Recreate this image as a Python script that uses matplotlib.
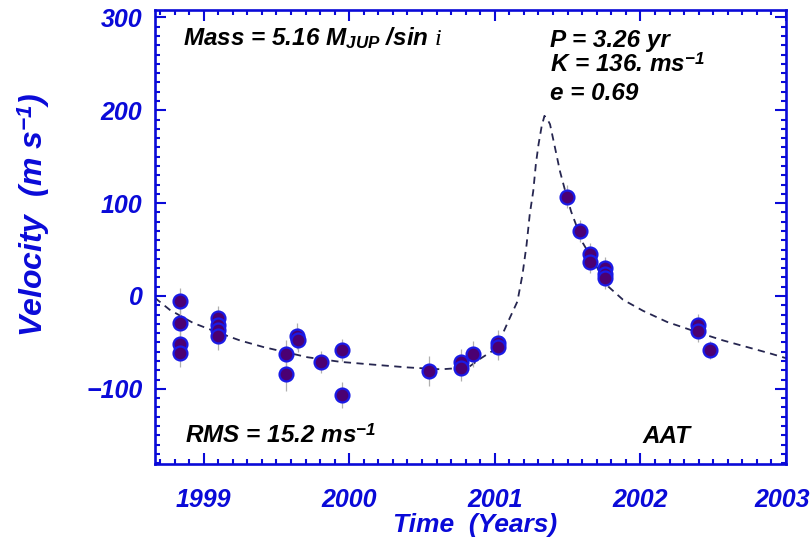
import matplotlib
matplotlib.use("Agg")
import matplotlib.pyplot as plt
import matplotlib.transforms as mtransforms
from matplotlib.ticker import MultipleLocator
import numpy as np

FONT = ["Liberation Sans", "DejaVu Sans"]
plt.rcParams['font.family'] = FONT
plt.rcParams['mathtext.fontset'] = 'custom'
plt.rcParams['mathtext.rm'] = 'Liberation Sans:italic:bold'
plt.rcParams['mathtext.bf'] = 'Liberation Sans:italic:bold'
plt.rcParams['mathtext.it'] = 'Liberation Serif:italic'

BLUE = "#0a0ad8"

# observations (year, velocity m/s, error m/s)
obs_t = [1998.838, 1998.838, 1998.838, 1998.838,
         1999.098, 1999.098, 1999.098, 1999.098,
         1999.569, 1999.569, 1999.640, 1999.646,
         1999.803, 1999.953, 1999.953,
         2000.546, 2000.769, 2000.769, 2000.850, 2001.022, 2001.022,
         2001.493, 2001.585, 2001.652, 2001.652,
         2001.757, 2001.757, 2001.757,
         2002.393, 2002.393, 2002.481]
obs_v = [-5, -29, -52, -61,
         -24, -31, -37, -43,
         -62, -84, -43, -47,
         -71, -58, -107,
         -81, -71, -78, -62, -51, -55,
         107, 70, 45, 37,
         30, 24, 19,
         -31, -38, -58]
obs_err = [14, 14, 15, 16,
           13, 13, 14, 15,
           15, 18, 14, 13,
           12, 12, 14,
           16, 14, 14, 14, 14, 14,
           12, 12, 12, 12,
           12, 12, 12,
           12, 12, 10]

# fitted orbit
fit_t = [1998.665, 1998.768, 1998.927, 1999.092, 1999.251, 1999.410, 1999.548,
         1999.713, 1999.940, 2000.168, 2000.403, 2000.630, 2000.817, 2000.906,
         2000.996, 2001.045, 2001.099, 2001.155, 2001.190, 2001.218, 2001.240,
         2001.264, 2001.282, 2001.300, 2001.322, 2001.341, 2001.362, 2001.379,
         2001.413, 2001.448, 2001.482, 2001.524, 2001.605, 2001.682, 2001.780,
         2001.880, 2002.018, 2002.183, 2002.390, 2002.570, 2002.755, 2002.893,
         2003.0]
fit_v = [-2, -15, -29, -39, -48, -55, -60,
         -66, -71, -74, -77, -79, -77, -67,
         -58, -44, -25, -6, 23, 55, 88,
         113, 142, 163, 183, 194, 190, 185,
         160, 134, 114, 91, 57, 36, 10,
         -4, -16, -28, -39, -48, -56, -62,
         -67]

fig = plt.figure(figsize=(8.12, 5.45), dpi=100)
ax = fig.add_axes([155/812, 1 - 464/545, (786 - 155)/812, (464 - 10)/545])

ax.plot(fit_t, fit_v, color="#262650", lw=1.3, dashes=(4, 3), zorder=2)
ax.errorbar(obs_t, obs_v, yerr=obs_err, fmt='none', ecolor="#b0b0b0",
            elinewidth=0.9, capsize=0, zorder=3)
ax.plot(obs_t, obs_v, 'o', ms=10, mfc="#4b0072", mec="#1a1ae6", mew=1.6,
        zorder=4)

ax.set_xlim(1998.666, 2003.0)
ax.set_ylim(-181, 308)

ax.xaxis.set_major_locator(MultipleLocator(1))
ax.xaxis.set_minor_locator(MultipleLocator(0.1))
ax.yaxis.set_major_locator(MultipleLocator(100))
ax.yaxis.set_minor_locator(MultipleLocator(10))
ax.set_xticks([1999, 2000, 2001, 2002, 2003])
ax.set_xticklabels(["1999", "2000", "2001", "2002", "2003"])
ax.set_yticks([-100, 0, 100, 200, 300])
ax.set_yticklabels(["\u2212100", "0", "100", "200", "300"])

for s in ax.spines.values():
    s.set_color(BLUE)
    s.set_linewidth(1.9)
ax.tick_params(which='both', direction='in', top=True, right=True,
               color=BLUE, width=1.5)
ax.tick_params(which='major', length=8)
ax.tick_params(which='minor', length=3.5)
ax.tick_params(axis='x', which='major', pad=17)
ax.tick_params(axis='y', which='major', pad=9)
for lab in ax.get_xticklabels() + ax.get_yticklabels():
    lab.set_fontsize(18)
    lab.set_fontweight('bold')
    lab.set_fontstyle('italic')
    lab.set_color(BLUE)
last = ax.get_xticklabels()[-1]
last.set_transform(last.get_transform() +
                   mtransforms.ScaledTranslation(-4/100, 0, fig.dpi_scale_trans))

ax.set_xlabel("Time  (Years)", fontsize=19, fontweight='bold',
              fontstyle='italic', color=BLUE)
ax.xaxis.set_label_coords(0.508, -0.108)
ax.set_ylabel("Velocity  (m s$^{-1}$)", fontsize=23, fontweight='bold',
              fontstyle='italic', color=BLUE)
ax.yaxis.set_label_coords(-0.163, 0.55)

txt = dict(fontsize=17.5, fontweight='bold', fontstyle='italic', color='black',
           transform=ax.transAxes, va='baseline', ha='left')
ax.text(0.044, 0.921, r"Mass = 5.16 M$_{\mathrm{JUP}}$ /sin $i$", **txt)
ax.text(0.626, 0.919, "P = 3.26 yr", **txt)
ax.text(0.626, 0.863, "K = 136. ms$^{-1}$", **txt)
ax.text(0.626, 0.802, "e = 0.69", **txt)
ax.text(0.048, 0.046, "RMS = 15.2 ms$^{-1}$", **txt)
ax.text(0.772, 0.046, "AAT", **txt)

fig.savefig("out.png", dpi=100)
